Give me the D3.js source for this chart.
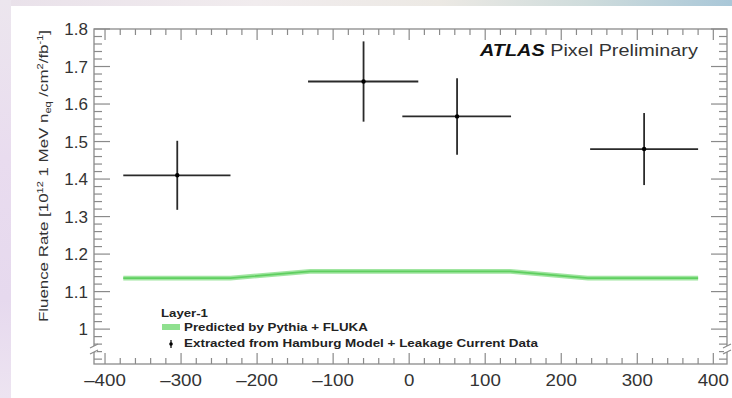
<!DOCTYPE html>
<html>
<head>
<meta charset="utf-8">
<script src="https://cdn.jsdelivr.net/npm/d3@7"></script>
<style>
  html, body { margin: 0; padding: 0; background: #fff; }
  svg { display: block; font-family: "Liberation Sans", Arial, Helvetica, sans-serif; }
</style>
</head>
<body>
<svg id="chart" width="732" height="398"></svg>
<script>
// measured points: bin edges in z (mm), fluence rate and its error
const binLo = [-376, -133, -9, 238];
const binHi = [-235, 12, 134, 380];
const zCenter = [-305, -60, 63, 309];
const fluence = [1.41, 1.66, 1.567, 1.48];
const fluenceErr = [0.092, 0.107, 0.102, 0.096];

// prediction band (Pythia + FLUKA)
const predZ = [-376, -235, -130, 133, 235, 380];
const predFluence = [1.136, 1.136, 1.154, 1.154, 1.136, 1.136];
const predHalfWidth = 0.0065;

const xTicks = [-400, -300, -200, -100, 0, 100, 200, 300, 400];
const yTicks = [1, 1.1, 1.2, 1.3, 1.4, 1.5, 1.6, 1.7, 1.8];

const svg = d3.select('#chart');

// the source picture is a bit wider than tall, text is stretched sideways
function stretch(sel, k) {
  sel.each(function () {
    const w = this.getComputedTextLength();
    d3.select(this).attr('textLength', w * k).attr('lengthAdjust', 'spacingAndGlyphs');
  });
}

// photo-like backdrop around the white panel
const defs = svg.append('defs');
const gTop = defs.append('linearGradient').attr('id', 'gTop');
[['0%', '#e9e1ea'], ['35%', '#f1ecee'], ['60%', '#ece9e4'], ['80%', '#cfdcdc'], ['100%', '#a9c7d8']]
  .forEach(s => gTop.append('stop').attr('offset', s[0]).attr('stop-color', s[1]));
const gLeft = defs.append('linearGradient').attr('id', 'gLeft')
  .attr('x1', 0).attr('y1', 0).attr('x2', 0).attr('y2', 1);
[['0%', '#ece6ee'], ['40%', '#e9dcef'], ['75%', '#e6d9ee'], ['100%', '#ede4f1']]
  .forEach(s => gLeft.append('stop').attr('offset', s[0]).attr('stop-color', s[1]));
svg.append('rect').attr('width', 732).attr('height', 6).attr('fill', 'url(#gTop)');
svg.append('rect').attr('y', 0).attr('width', 11).attr('height', 398).attr('fill', 'url(#gLeft)');

const mLeft = 94, mRight = 727, mTop = 29, mBottom = 364;
const x = d3.scaleLinear().domain([-414.5, 418]).range([mLeft, mRight]);
const y = d3.scaleLinear().domain([0.907, 1.8]).range([mBottom, mTop]);

const axisColor = '#8a8a8a';
const labelColor = '#333';

// frame
svg.append('rect')
  .attr('x', mLeft).attr('y', mTop)
  .attr('width', mRight - mLeft).attr('height', mBottom - mTop)
  .attr('fill', 'none').attr('stroke', axisColor).attr('stroke-width', 1.3);

// x ticks, bottom and top
const xMinor = d3.range(-400, 420, 20).filter(v => v > x.domain()[0] && v < x.domain()[1]);
const xt = svg.append('g').attr('stroke', axisColor).attr('stroke-width', 1.2);
xMinor.forEach(v => {
  const major = v % 100 === 0;
  const len = major ? 11 : 6;
  xt.append('line').attr('x1', x(v)).attr('x2', x(v)).attr('y1', mBottom).attr('y2', mBottom - len);
  xt.append('line').attr('x1', x(v)).attr('x2', x(v)).attr('y1', mTop).attr('y2', mTop + len);
});

// y ticks, left and right
const yMinor = d3.range(0, 45).map(i => +(1.8 - i * 0.02).toFixed(2)).filter(v => v > y.domain()[0]);
const yt = svg.append('g').attr('stroke', axisColor).attr('stroke-width', 1.2);
yMinor.forEach(v => {
  const major = Math.abs(v * 10 - Math.round(v * 10)) < 1e-6;
  const len = major ? 16 : 8;
  yt.append('line').attr('x1', mLeft).attr('x2', mLeft + len).attr('y1', y(v)).attr('y2', y(v));
  yt.append('line').attr('x1', mRight).attr('x2', mRight - len).attr('y1', y(v)).attr('y2', y(v));
});

// axis break marks
[mLeft, mRight].forEach(ax => {
  const yb = 349;
  svg.append('rect').attr('x', ax - 3).attr('y', yb - 3).attr('width', 6).attr('height', 6).attr('fill', '#fff');
  svg.append('path')
    .attr('d', `M${ax - 4},${yb - 1} L${ax + 4},${yb - 5} M${ax - 4},${yb + 5} L${ax + 4},${yb + 1}`)
    .attr('stroke', axisColor).attr('stroke-width', 1.2).attr('fill', 'none');
});

// tick labels
svg.append('g').selectAll('text').data(xTicks).join('text')
  .attr('x', d => x(d)).attr('y', 386)
  .attr('text-anchor', 'middle')
  .attr('font-size', 17).attr('fill', labelColor)
  .text(d => d < 0 ? '\u2013' + Math.abs(d) : d)
  .call(stretch, 1.1);

svg.append('g').selectAll('text').data(yTicks).join('text')
  .attr('x', 88).attr('y', d => y(d) + 6)
  .attr('text-anchor', 'end')
  .attr('font-size', 17).attr('fill', labelColor)
  .text(d => d === 1 ? '1' : d.toFixed(1));

// y axis title
const title = svg.append('text')
  .attr('transform', 'translate(48,30) rotate(-90) scale(1.3,1)')
  .attr('text-anchor', 'end')
  .attr('font-size', 13).attr('fill', labelColor);
title.append('tspan').text('Fluence Rate [10');
title.append('tspan').attr('font-size', 8.5).attr('dy', -5).text('12');
title.append('tspan').attr('dy', 5).text(' 1 MeV n');
title.append('tspan').attr('font-size', 8.5).attr('dy', 3).text('eq');
title.append('tspan').attr('dy', -3).text(' /cm');
title.append('tspan').attr('font-size', 8.5).attr('dy', -5).text('2');
title.append('tspan').attr('dy', 5).text('/fb');
title.append('tspan').attr('font-size', 8.5).attr('dy', -5).text('-1');
title.append('tspan').attr('dy', 5).text(']');

// prediction band
const predData = predZ.map((z, i) => ({ z, v: predFluence[i] }));
svg.append('path')
  .datum(predData)
  .attr('fill', '#8fe08f')
  .attr('opacity', 0.85)
  .attr('d', d3.area().x(d => x(d.z)).y0(d => y(d.v - predHalfWidth)).y1(d => y(d.v + predHalfWidth)));
svg.append('path')
  .datum(predData)
  .attr('fill', 'none').attr('stroke', '#5fcf60').attr('stroke-width', 1.6)
  .attr('d', d3.line().x(d => x(d.z)).y(d => y(d.v)));

// data points with error bars
const pts = zCenter.map((z, i) => ({ z, v: fluence[i], e: fluenceErr[i], lo: binLo[i], hi: binHi[i] }));
const pg = svg.append('g').selectAll('g').data(pts).join('g');
pg.append('line')
  .attr('x1', d => x(d.lo)).attr('x2', d => x(d.hi))
  .attr('y1', d => y(d.v)).attr('y2', d => y(d.v))
  .attr('stroke', '#2a2a2a').attr('stroke-width', 1.8);
pg.append('line')
  .attr('x1', d => x(d.z)).attr('x2', d => x(d.z))
  .attr('y1', d => y(d.v - d.e)).attr('y2', d => y(d.v + d.e))
  .attr('stroke', '#2a2a2a').attr('stroke-width', 1.8);
pg.append('circle')
  .attr('cx', d => x(d.z)).attr('cy', d => y(d.v)).attr('r', 2.2).attr('fill', '#000');

// ATLAS label
const atlas = svg.append('text')
  .attr('transform', 'translate(480,56) scale(1.24,1)')
  .attr('font-size', 16).attr('fill', '#111');
atlas.append('tspan').attr('font-weight', 'bold').attr('font-style', 'italic').text('ATLAS');
atlas.append('tspan').attr('fill', '#333').text(' Pixel Preliminary');

// legend
const lg = svg.append('g').attr('font-size', 11).attr('font-weight', 'bold').attr('fill', '#222');
lg.append('text').attr('x', 161).attr('y', 317).text('Layer-1').call(stretch, 1.2);
lg.append('rect').attr('x', 162).attr('y', 324).attr('width', 18).attr('height', 6).attr('fill', '#8fe08f');
lg.append('text').attr('x', 184).attr('y', 331).text('Predicted by Pythia + FLUKA').call(stretch, 1.21);
lg.append('line').attr('x1', 171).attr('x2', 171).attr('y1', 340).attr('y2', 348)
  .attr('stroke', '#222').attr('stroke-width', 1.4);
lg.append('circle').attr('cx', 171).attr('cy', 344).attr('r', 1.8).attr('fill', '#000');
lg.append('text').attr('x', 184).attr('y', 347).text('Extracted from Hamburg Model + Leakage Current Data').call(stretch, 1.22);
</script>
</body>
</html>
